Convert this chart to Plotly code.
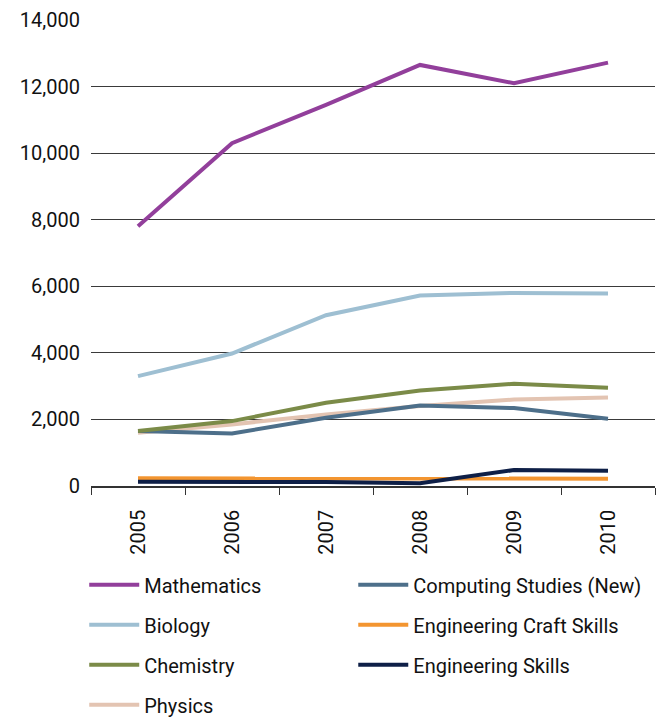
import plotly.graph_objects as go

years = ["2005", "2006", "2007", "2008", "2009", "2010"]
mathematics = [7800, 10300, 11450, 12650, 12100, 12720]
biology = [3300, 3980, 5130, 5720, 5800, 5780]
chemistry = [1650, 1950, 2500, 2870, 3070, 2950]
physics = [1600, 1850, 2150, 2400, 2600, 2660]
computing = [1650, 1580, 2050, 2420, 2340, 2020]
eng_craft = [230, 230, 230, 220, 220, 220]
eng_skills = [130, 130, 120, 80, 480, 460]
y_ticks = [0, 2000, 4000, 6000, 8000, 10000, 12000, 14000]

series = [
    # name, values, color, legend, rank
    ("Engineering Craft Skills", eng_craft, "#f39530", "legend2", 2),
    ("Engineering Skills", eng_skills, "#0e1f47", "legend2", 3),
    ("Physics", physics, "#e3c4b2", "legend", 4),
    ("Computing Studies (New)", computing, "#4d6f8a", "legend2", 1),
    ("Chemistry", chemistry, "#7b8b48", "legend", 3),
    ("Biology", biology, "#9ebfd2", "legend", 2),
    ("Mathematics", mathematics, "#923f9b", "legend", 1),
]

fig = go.Figure()
for name, vals, color, leg, rank in series:
    fig.add_trace(go.Scatter(
        x=years, y=vals, name=name, mode="lines",
        line=dict(color=color, width=4),
        legend=leg, legendrank=rank, legendgroup=name,
    ))

font = dict(family="Roboto, Noto Sans, sans-serif", size=20, color="#111111")

fig.update_layout(
    width=663, height=718,
    margin=dict(l=91, r=8, t=20, b=232, autoexpand=False),
    paper_bgcolor="white", plot_bgcolor="white",
    font=font,
    showlegend=True,
    xaxis=dict(
        type="category", tickangle=-90, showgrid=False, range=[-0.5, 5.5],
        showline=True, linecolor="#333333", linewidth=1.5,
        ticks="outside", tickson="boundaries", ticklen=7, tickcolor="#333333",
        ticklabelstandoff=14, tickfont=dict(size=20),
    ),
    yaxis=dict(
        range=[0, 14000], tickvals=y_ticks, tickformat=",",
        showgrid=True, gridcolor="#3a3a3a", gridwidth=1,
        zeroline=False, showline=False, ticks="", ticklabelstandoff=10,
        tickfont=dict(size=20),
    ),
    legend=dict(
        x=-0.012, xref="paper", y=-0.170, yref="paper", xanchor="left", yanchor="top",
        orientation="v", traceorder="grouped", tracegroupgap=11,
        itemwidth=50, font=font, bgcolor="rgba(0,0,0,0)",
    ),
    legend2=dict(
        x=0.465, xref="paper", y=-0.170, yref="paper", xanchor="left", yanchor="top",
        orientation="v", traceorder="grouped", tracegroupgap=11,
        itemwidth=50, font=font, bgcolor="rgba(0,0,0,0)",
    ),
)

fig.write_html("out.html")
